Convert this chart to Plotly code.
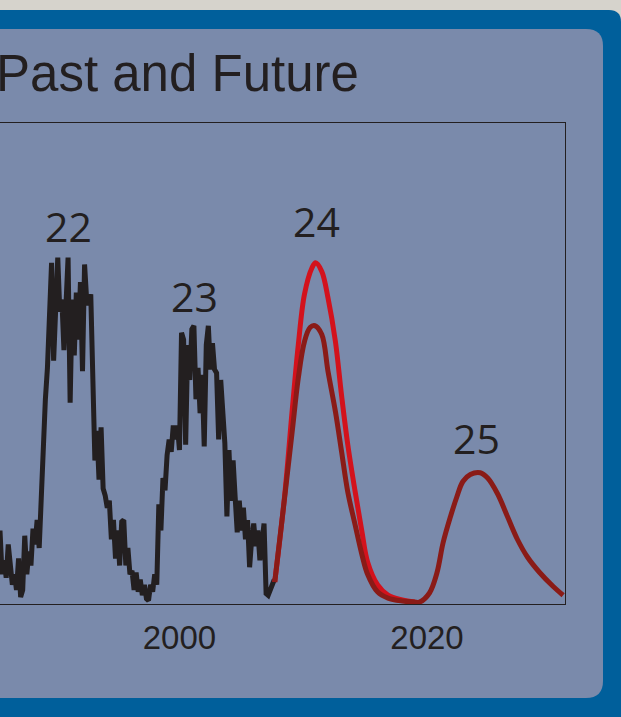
import numpy as np
import plotly.graph_objects as go

# ---------------- data ----------------
# Observed monthly-ish sunspot numbers (2-month steps from 1985.5)
black_start = 1985.5
black_vals = [42, 17, 25, 15, 34, 19, 11, 17, 8, 26,
              4, 8, 39, 17, 30, 22, 43, 34, 48, 32,
              66, 94, 117, 135, 168, 195, 139, 174, 198, 167,
              174, 145, 168, 198, 115, 174, 142, 178, 151, 184,
              133, 194, 174, 171, 177, 114, 82, 99, 71, 101,
              66, 62, 55, 59, 37, 48, 26, 42, 22, 47,
              48, 22, 32, 17, 19, 8, 18, 7, 14, 5,
              11, 3, 2, 11, 7, 17, 11, 57, 42, 72,
              65, 85, 94, 87, 102, 94, 102, 88, 155, 151,
              91, 148, 128, 157, 159, 117, 135, 109, 131, 90,
              148, 159, 134, 149, 134, 132, 94, 128, 105, 92,
              50, 88, 59, 82, 61, 41, 59, 42, 55, 37,
              48, 21, 37, 46, 33, 42, 25, 37, 46, 6,
              5, 8, 11, 14]

# Prediction: strong cycle 24
high_years = [2007.7, 2008.5, 2009.1, 2009.6, 2010.1, 2010.7, 2011.0, 2011.5, 2012.0,
              2012.6, 2013.1, 2013.6, 2014.2, 2014.75, 2015.2, 2016.0, 2016.85, 2018.0, 2019.0]
high_vals = [12.6, 62, 110, 148, 177, 192, 195, 190, 175,
             150, 119, 91, 64, 41, 24, 11, 5, 2.3, 1.1]

# Prediction: weaker cycle 24 followed by cycle 25
low_years = [2007.7, 2008.5, 2009.1, 2009.6, 2010.1, 2010.55, 2010.95, 2011.5, 2012.0,
             2012.6, 2013.1, 2013.6, 2014.2, 2014.75, 2015.2, 2016.0, 2016.85, 2018.0,
             2019.0, 2019.4, 2020.2, 2020.8, 2021.3, 2021.9, 2022.4, 2022.9, 2023.5,
             2024.3, 2024.9, 2025.7, 2026.5, 2027.3, 2028.1, 2029.1, 2030.2, 2031.0]
low_vals = [12.6, 61, 98, 129, 150, 158, 159, 154, 133,
            110, 87, 64, 45, 28, 17, 7, 3.4, 1.7,
            1.1, 1.1, 6.3, 17.7, 35, 50, 61, 70, 74,
            75, 72, 63, 50, 37, 27, 18, 10, 5]

cycle_labels = ["22", "23", "24", "25"]
cycle_x = [1991.07, 2001.2, 2011.1, 2024.0]
cycle_y = [216, 176, 219, 95]

tick_years = [2000, 2020]
tick_text = ["2000", "2020"]
title_text = "Past and Future"

# ---------------- layout helpers ----------------
W, H = 621, 717
ML, MR, MT, MB = 0, 56, 123, 113
PW, PH = W - ML - MR, H - MT - MB


def px(x):
    return (x - ML) / PW


def py(y):
    return (H - MB - y) / PH


def path(points):
    out = []
    for cmd, *pts in points:
        coords = " ".join(f"{px(a):.5f},{py(b):.5f}" for a, b in pts)
        out.append(f"{cmd} {coords}")
    return " ".join(out) + " Z"


black_years = black_start + np.arange(len(black_vals)) / 6.0

fig = go.Figure()
fig.add_trace(go.Scatter(x=black_years, y=black_vals, mode="lines",
                         line=dict(color="#231f20", width=5), hoverinfo="skip"))
fig.add_trace(go.Scatter(x=high_years, y=high_vals, mode="lines",
                         line=dict(color="#d3121c", width=5, shape="spline", smoothing=1.0),
                         hoverinfo="skip"))
fig.add_trace(go.Scatter(x=low_years, y=low_vals, mode="lines",
                         line=dict(color="#8a1b17", width=5, shape="spline", smoothing=1.0),
                         hoverinfo="skip"))

blue_path = path([("M", (-20, 10)), ("L", (609, 10)), ("Q", (621, 10), (621, 22)),
                  ("L", (621, 740)), ("L", (-20, 740))])
panel_path = path([("M", (-20, 29)), ("L", (586, 29)), ("Q", (603, 29), (603, 46)),
                   ("L", (603, 681)), ("Q", (603, 698), (586, 698)), ("L", (-20, 698))])

shapes = [
    dict(type="path", path=blue_path, xref="paper", yref="paper",
         fillcolor="#005f9b", line=dict(width=0), layer="below"),
    dict(type="path", path=panel_path, xref="paper", yref="paper",
         fillcolor="#7a8aab", line=dict(width=0), layer="below"),
]

annotations = [
    dict(text=title_text, xref="paper", yref="paper", x=px(361), y=py(73),
         xanchor="right", yanchor="middle", showarrow=False,
         font=dict(family="Liberation Sans, Arial, sans-serif", size=51, color="#231f20"))
]
for t, x, y in zip(cycle_labels, cycle_x, cycle_y):
    annotations.append(dict(text=t, x=x, y=y, xref="x", yref="y", showarrow=False,
                            xanchor="center", yanchor="middle",
                            font=dict(family="Open Sans, Liberation Sans, sans-serif",
                                      size=41, color="#231f20")))

fig.update_layout(
    width=W, height=H,
    margin=dict(l=ML, r=MR, t=MT, b=MB, pad=0),
    paper_bgcolor="#d6d3cc",
    plot_bgcolor="rgba(0,0,0,0)",
    showlegend=False,
    shapes=shapes,
    annotations=annotations,
    xaxis=dict(range=[1985.5, 2031.15], showgrid=False, zeroline=False,
               showline=True, mirror=True, linecolor="#231f20", linewidth=1,
               ticks="", tickvals=tick_years, ticktext=tick_text,
               ticklabelstandoff=4,
               tickfont=dict(family="Liberation Sans Narrow, Arial Narrow, Liberation Sans, sans-serif",
                             size=33, color="#231f20")),
    yaxis=dict(range=[0, PH / 1.75], showgrid=False, zeroline=False,
               showline=True, side="right", linecolor="#231f20", linewidth=1,
               ticks="", showticklabels=False),
)

fig.write_html("out.html", config={"displayModeBar": False},
               post_script="document.body.style.margin='0';document.body.style.overflow='hidden';")
